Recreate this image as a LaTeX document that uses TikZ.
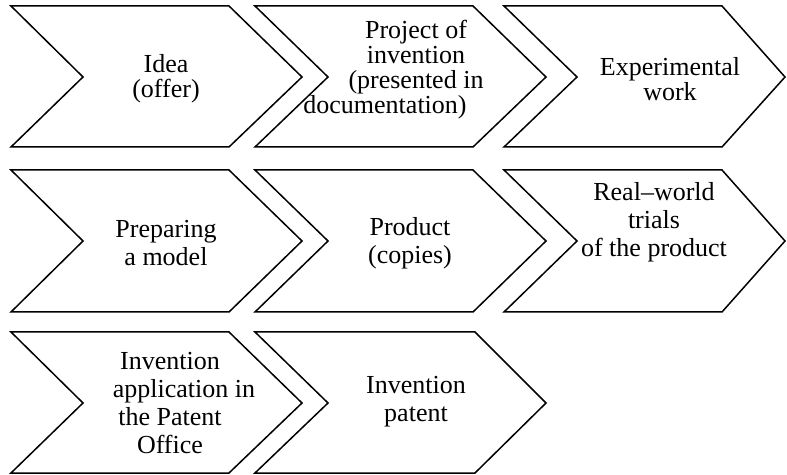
\documentclass[tikz,border=0pt]{standalone}
\usepackage{fontspec}
\setmainfont{Liberation Serif}
\begin{document}
\begin{tikzpicture}[x=1pt,y=1pt,
  chev/.style={draw=black,line width=1.5pt,line join=miter,fill=white},
  lbl/.style={align=center,inner sep=0pt,font=\fontsize{26}{25}\selectfont},
  lblrow2/.style={lbl,font=\fontsize{26}{28}\selectfont},
  lblrow3/.style={lbl,font=\fontsize{26}{28}\selectfont}]
\useasboundingbox (0,0) rectangle (787,474);
% row 1
\draw[chev] (11,468) -- (229,468) -- (302,397) -- (229,327) -- (11,327) -- (83,397) -- cycle;
\draw[chev] (255,468) -- (473,468) -- (546,397) -- (473,327) -- (255,327) -- (328,397) -- cycle;
\draw[chev] (504,468) -- (722,468) -- (785,397) -- (722,327) -- (504,327) -- (577,397) -- cycle;
% row 2
\draw[chev] (11,304) -- (229,304) -- (302,233) -- (229,162) -- (11,162) -- (83,233) -- cycle;
\draw[chev] (255,304) -- (473,304) -- (546,233) -- (473,162) -- (255,162) -- (328,233) -- cycle;
\draw[chev] (504,304) -- (722,304) -- (785,233) -- (722,162) -- (504,162) -- (577,233) -- cycle;
% row 3
\draw[chev] (11,142) -- (229,142) -- (302,71) -- (229,1) -- (11,1) -- (83,71) -- cycle;
\draw[chev] (255,142) -- (475,142) -- (546,71) -- (475,1) -- (255,1) -- (328,71) -- cycle;
% labels
\node[lbl] (t1) at (166,395) {Idea\\(offer)};
\node[lbl] (t2) at (416,404) {Project of\\invention\\(presented in\\documentation)\hspace*{62pt}};
\node[lbl] (t3) at (670,395) {Experimental\\work};
\node[lblrow2] (t4) at (166,231) {Preparing\\a model};
\node[lblrow2] (t5) at (410,231) {Product\\(copies)};
\node[lblrow2] (t6) at (654,252) {Real–world\\trials\\of the product};
\node[lblrow3] (t7) at (170,71) {Invention\\\hspace*{28pt}application in\\the Patent\\Office};
\node[lblrow3] (t8) at (416,72) {Invention\\patent};
\end{tikzpicture}
\end{document}
